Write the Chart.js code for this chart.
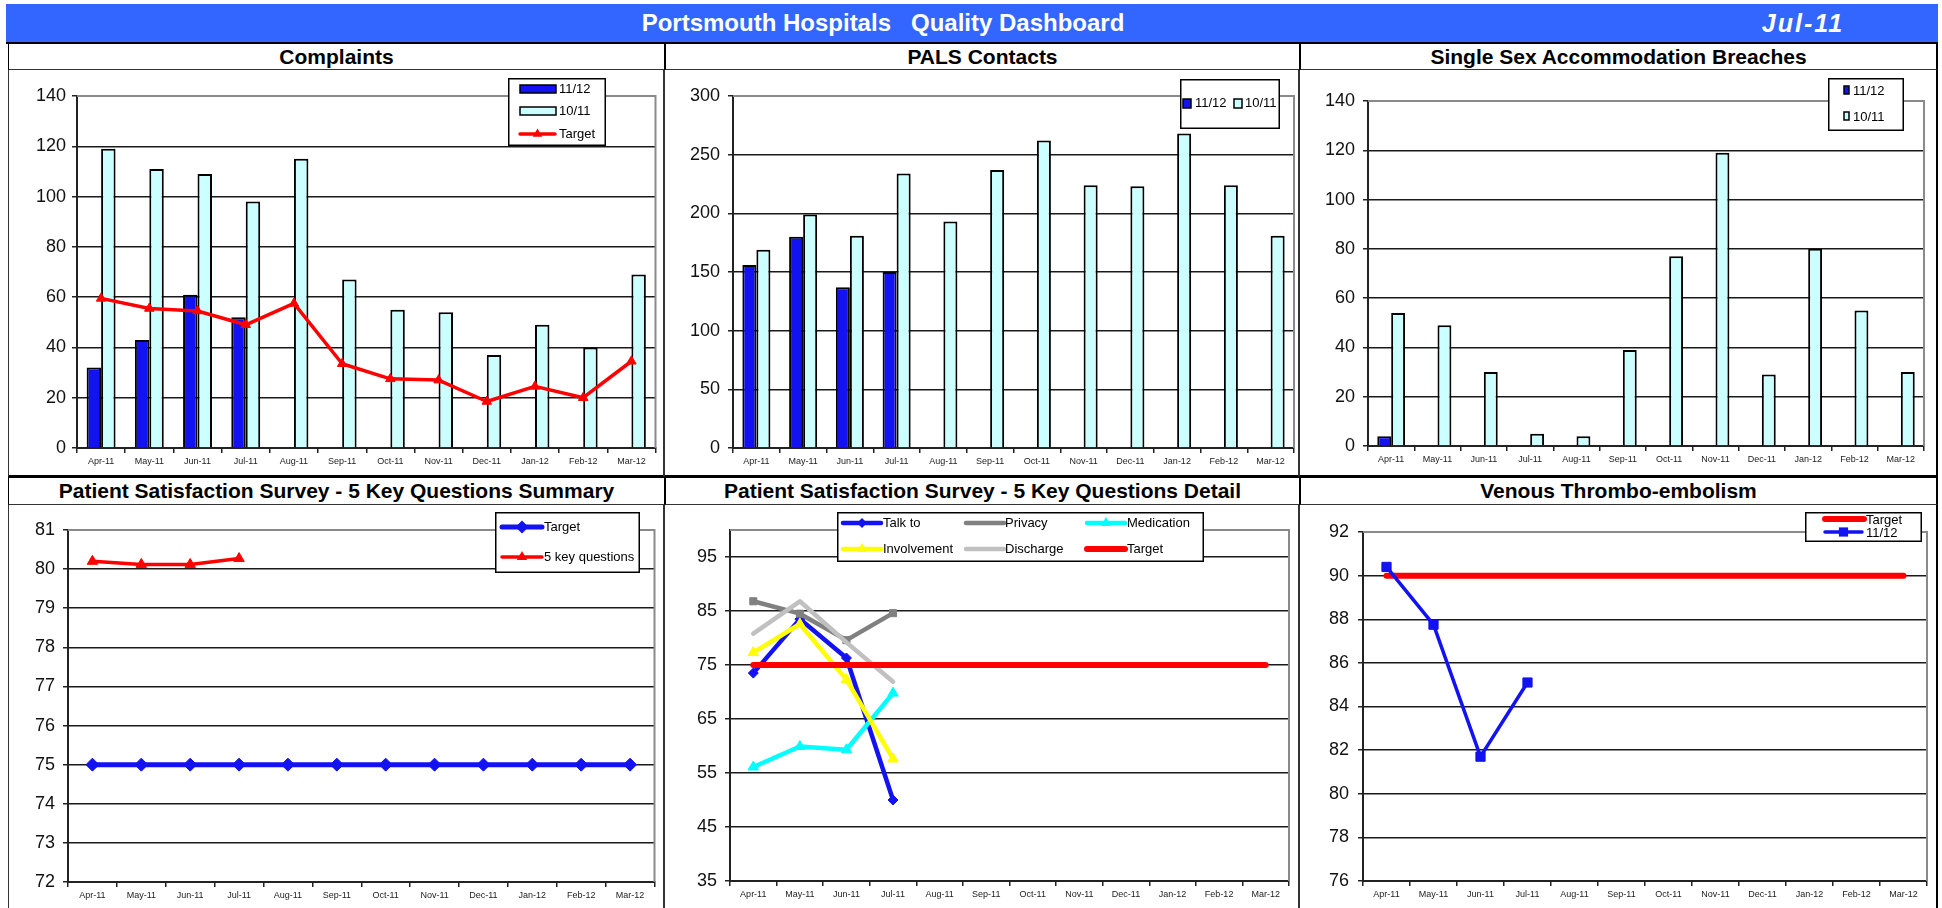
<!DOCTYPE html>
<html>
<head>
<meta charset="utf-8">
<title>Portsmouth Hospitals Quality Dashboard</title>
<script src="https://cdn.jsdelivr.net/npm/chart.js@4/dist/chart.umd.min.js"></script>
<style>
  html, body { margin: 0; padding: 0; background: #fff; }
  body { width: 1942px; height: 908px; position: relative; overflow: hidden;
         font-family: 'Liberation Sans', Arial, sans-serif; }
  .abs { position: absolute; box-sizing: border-box; }
  #header { left: 6px; top: 4px; width: 1932px; height: 38px; background: #3366ff; }
  #headRule { left: 6px; top: 42px; width: 1932px; height: 2px; background: #000; }
  .htext { top: 4px; height: 38px; line-height: 38px; color: #fff; font-weight: bold;
           white-space: pre; transform: translateX(-50%); }
  .htitle { font-size: 24px; }
  .hdate { font-size: 25px; font-style: italic; letter-spacing: 2px; }
  .cell { display: flex; align-items: center; justify-content: center; font-weight: bold;
          font-size: 21px; color: #000; border-bottom: 1px solid #333; white-space: nowrap; }
  .frame { border-left: 1px solid #333; border-right: 1px solid #333; }
  .top { border-bottom: 3px solid #000; }
  canvas { position: absolute; }
</style>
</head>
<body>
<div class="abs" id="header"></div>
<div class="abs htext htitle" style="left:883px">Portsmouth Hospitals   Quality Dashboard</div>
<div class="abs htext hdate" style="left:1803px">Jul-11</div>
<div class="abs" id="headRule"></div>

<!-- top row titles -->
<div class="abs cell" style="left:8px;top:44px;width:656px;height:26px;border-left:1px solid #000;">Complaints</div>
<div class="abs cell" style="left:664px;top:44px;width:635px;height:26px;border-left:2px solid #000;">PALS Contacts</div>
<div class="abs cell" style="left:1299px;top:44px;width:639px;height:26px;border-left:2px solid #000;border-right:2px solid #000;">Single Sex Accommodation Breaches</div>

<!-- top row frames -->
<div class="abs frame top" style="left:8px;top:70px;width:656px;height:408px;"></div>
<div class="abs frame top" style="left:664px;top:70px;width:635px;height:408px;"></div>
<div class="abs frame top" style="left:1299px;top:70px;width:639px;height:408px;border-right:2px solid #000;"></div>

<!-- bottom row titles -->
<div class="abs cell" style="left:8px;top:478px;width:656px;height:27px;border-left:1px solid #000;">Patient Satisfaction Survey - 5 Key Questions Summary</div>
<div class="abs cell" style="left:664px;top:478px;width:635px;height:27px;border-left:2px solid #000;">Patient Satisfaction Survey - 5 Key Questions Detail</div>
<div class="abs cell" style="left:1299px;top:478px;width:639px;height:27px;border-left:2px solid #000;border-right:2px solid #000;">Venous Thrombo-embolism</div>

<!-- bottom row frames -->
<div class="abs frame" style="left:8px;top:505px;width:656px;height:410px;"></div>
<div class="abs frame" style="left:664px;top:505px;width:635px;height:410px;"></div>
<div class="abs frame" style="left:1299px;top:505px;width:639px;height:410px;border-right:2px solid #000;"></div>

<canvas id="complaints"></canvas>
<canvas id="pals"></canvas>
<canvas id="ssa"></canvas>
<canvas id="survey"></canvas>
<canvas id="detail"></canvas>
<canvas id="vte"></canvas>

<script>
// ---- data ----
const months = ['Apr-11', 'May-11', 'Jun-11', 'Jul-11', 'Aug-11', 'Sep-11',
                'Oct-11', 'Nov-11', 'Dec-11', 'Jan-12', 'Feb-12', 'Mar-12'];

const complaints1112 = [32, 43, 61, 52, null, null, null, null, null, null, null, null];
const complaints1011 = [119, 111, 109, 98, 115, 67, 55, 54, 37, 49, 40, 69];
const complaintsTarget = [59.5, 55.5, 54.5, 49, 57.5, 33.5, 27.5, 27, 18.5, 24.5, 20, 34.5];
const complaintsTicks = [0, 20, 40, 60, 80, 100, 120, 140];

const pals1112 = [156, 180, 137, 150, null, null, null, null, null, null, null, null];
const pals1011 = [169, 199, 181, 234, 193, 237, 262, 224, 223, 268, 224, 181];
const palsTicks = [0, 50, 100, 150, 200, 250, 300];

const ssa1112 = [4, null, null, null, null, null, null, null, null, null, null, null];
const ssa1011 = [54, 49, 30, 5, 4, 39, 77, 119, 29, 80, 55, 30];
const ssaTicks = [0, 20, 40, 60, 80, 100, 120, 140];

const surveyTarget = [75, 75, 75, 75, 75, 75, 75, 75, 75, 75, 75, 75];
const surveyKeyQuestions = [80.2, 80.12, 80.12, 80.27];
const surveyTicks = [72, 73, 74, 75, 76, 77, 78, 79, 80, 81];

const talkTo = [73.5, 83.5, 76.3, 50];
const privacy = [86.8, 84.5, 79.6, 84.6];
const medication = [56.1, 59.9, 59.3, 69.8];
const involvement = [77.3, 82.6, 72.3, 57.6];
const discharge = [80.8, 86.8, 79.2, 71.9];
const detailTarget = [75, 75, 75, 75, 75, 75, 75, 75, 75, 75, 75, 75];
const detailTicks = [35, 45, 55, 65, 75, 85, 95];

const vteTarget = [90, 90, 90, 90, 90, 90, 90, 90, 90, 90, 90, 90];
const vte1112 = [90.4, 87.75, 81.7, 85.1];
const vteTicks = [76, 78, 80, 82, 84, 86, 88, 90, 92];

// ---- drawing helpers ----
const FONT = "'Liberation Sans', Arial, sans-serif";
const BLUE = '#1212f2';
const CYAN_FILL = '#ccffff';
const RED = '#ff0000';

// gray top/right border of the plot area
const plotFrame = {
  id: 'plotFrame',
  beforeDatasetsDraw(chart) {
    const { ctx, chartArea: a } = chart;
    ctx.save();
    ctx.strokeStyle = '#8a8a8a';
    ctx.lineWidth = 2;
    ctx.beginPath();
    ctx.moveTo(a.left, a.top);
    ctx.lineTo(a.right, a.top);
    ctx.lineTo(a.right, a.bottom);
    ctx.stroke();
    ctx.restore();
  }
};

function marker(ctx, style, r, x, y) {
  ctx.beginPath();
  if (style === 'triangle') {
    ctx.moveTo(x, y - r);
    ctx.lineTo(x + r * 0.866, y + r * 0.5);
    ctx.lineTo(x - r * 0.866, y + r * 0.5);
    ctx.closePath();
  } else if (style === 'rectRot') {
    ctx.moveTo(x, y - r); ctx.lineTo(x + r, y); ctx.lineTo(x, y + r); ctx.lineTo(x - r, y);
    ctx.closePath();
  } else {
    const s = r * Math.SQRT1_2;
    ctx.rect(x - s, y - s, 2 * s, 2 * s);
  }
  ctx.fill();
}

// boxed legend placed inside the chart canvas
const boxLegend = {
  id: 'boxLegend',
  afterDraw(chart, args, o) {
    if (!o || !o.box) return;
    const ctx = chart.ctx;
    const ox = o.origin[0], oy = o.origin[1];
    const [bx, by, bw, bh] = o.box;
    ctx.save();
    ctx.fillStyle = '#fff';
    ctx.fillRect(bx - ox, by - oy, bw, bh);
    ctx.strokeStyle = '#000';
    ctx.lineWidth = 1.5;
    ctx.strokeRect(bx - ox + 0.75, by - oy + 0.75, bw - 1.5, bh - 1.5);
    o.items.forEach(it => {
      const ds = chart.data.datasets[it.ds];
      if (it.sw) {
        const [sx, sy, sw, sh] = it.sw;
        ctx.fillStyle = ds.backgroundColor;
        ctx.fillRect(sx - ox, sy - oy, sw, sh);
        ctx.strokeStyle = '#000';
        ctx.lineWidth = 1.5;
        ctx.strokeRect(sx - ox, sy - oy, sw, sh);
      } else if (it.line) {
        const [x1, x2, ly] = it.line;
        ctx.strokeStyle = ds.borderColor;
        ctx.lineWidth = it.lw || ds.borderWidth;
        ctx.lineCap = 'round';
        ctx.beginPath();
        ctx.moveTo(x1 - ox, ly - oy);
        ctx.lineTo(x2 - ox, ly - oy);
        ctx.stroke();
        if (it.mark) {
          ctx.fillStyle = ds.borderColor;
          marker(ctx, ds.pointStyle, ds.pointRadius, (x1 + x2) / 2 - ox, ly - oy);
        }
      }
      ctx.fillStyle = '#000';
      ctx.font = '13px ' + FONT;
      ctx.textBaseline = 'middle';
      ctx.textAlign = 'left';
      ctx.fillText(ds.label, it.text[0] - ox, it.text[1] - oy);
    });
    ctx.restore();
  }
};

function makeChart(id, g, type, datasets, axis, legend) {
  const cv = document.getElementById(id);
  cv.width = g.w; cv.height = g.h;
  cv.style.left = g.x + 'px';
  cv.style.top = g.y + 'px';
  const plotL = g.pl - g.x, plotT = g.pt - g.y, plotR = g.pr - g.x, plotB = g.pb - g.y;
  const yMin = axis.ticks[0];
  const yMax = axis.max;
  return new Chart(cv, {
    type: type,
    data: { labels: months, datasets: datasets },
    options: {
      responsive: false,
      animation: false,
      events: [],
      layout: { padding: { left: 0, top: plotT, right: g.w - plotR, bottom: 0 } },
      plugins: {
        legend: { display: false },
        tooltip: { enabled: false },
        boxLegend: Object.assign({ origin: [g.x, g.y] }, legend)
      },
      scales: {
        x: {
          offset: true,
          grid: { offset: true, drawOnChartArea: false, drawTicks: true, tickLength: 5,
                  lineWidth: 1.5, color: '#222' },
          border: { display: true, color: '#222', width: 2 },
          ticks: { autoSkip: false, maxRotation: 0, minRotation: 0, padding: 3,
                   color: '#222', font: { family: FONT, size: 9 } },
          afterFit: s => { s.height = g.h - plotB; }
        },
        y: {
          min: yMin,
          max: yMax,
          afterBuildTicks: s => { s.ticks = axis.ticks.map(v => ({ value: v })); },
          grid: {
            color: c => (c.tick && c.tick.value === yMax) ? 'rgba(0,0,0,0)' : '#1a1a1a',
            tickColor: '#222', lineWidth: 1.5, tickLength: 5
          },
          border: { display: true, color: '#222', width: 2 },
          ticks: { padding: axis.pad, color: '#111', font: { family: FONT, size: 18 } },
          afterFit: s => { s.width = plotL; }
        }
      }
    },
    plugins: [plotFrame, boxLegend]
  });
}

function bars(label, data, fill) {
  return { type: 'bar', label: label, data: data, backgroundColor: fill, borderColor: '#000',
           borderWidth: 2, categoryPercentage: 0.6, barPercentage: 1.0, order: 1 };
}

function line(label, data, color, width, style, radius, order) {
  return { type: 'line', label: label, data: data, borderColor: color, backgroundColor: color,
           borderWidth: width, pointStyle: style || 'circle', pointRadius: radius,
           pointBorderWidth: 1, pointBackgroundColor: color, pointBorderColor: color,
           tension: 0, fill: false, spanGaps: false, order: order,
           borderJoinStyle: 'round', borderCapStyle: 'round' };
}

// Complaints
makeChart('complaints',
  { x: 9, y: 71, w: 653, h: 404, pl: 77, pt: 96, pr: 659, pb: 448 },
  'bar',
  [bars('11/12', complaints1112, BLUE),
   bars('10/11', complaints1011, CYAN_FILL),
   line('Target', complaintsTarget, RED, 3.5, 'triangle', 5.5, 0)],
  { ticks: complaintsTicks, max: 140, pad: 6 },
  { box: [508, 78, 98, 68],
    items: [{ ds: 0, sw: [520, 85, 36, 8], text: [559, 89.5] },
            { ds: 1, sw: [520, 107, 36, 8], text: [559, 111] },
            { ds: 2, line: [520, 555, 134], mark: true, text: [559, 134.5] }] });

// PALS Contacts
makeChart('pals',
  { x: 666, y: 71, w: 631, h: 404, pl: 733, pt: 96, pr: 1294, pb: 448 },
  'bar',
  [bars('11/12', pals1112, BLUE),
   bars('10/11', pals1011, CYAN_FILL)],
  { ticks: palsTicks, max: 300, pad: 8 },
  { box: [1180, 79, 100, 50],
    items: [{ ds: 0, sw: [1183, 99, 8, 9], text: [1195, 103.5] },
            { ds: 1, sw: [1234, 99, 8, 9], text: [1245, 103.5] }] });

// Single Sex Accommodation Breaches
makeChart('ssa',
  { x: 1301, y: 71, w: 634, h: 404, pl: 1368, pt: 101, pr: 1924, pb: 446 },
  'bar',
  [bars('11/12', ssa1112, BLUE),
   bars('10/11', ssa1011, CYAN_FILL)],
  { ticks: ssaTicks, max: 140, pad: 8 },
  { box: [1828, 78, 76, 53],
    items: [{ ds: 0, sw: [1844, 86, 5, 8], text: [1853, 91] },
            { ds: 1, sw: [1844, 112, 5, 8], text: [1853, 117] }] });

// Patient Satisfaction Survey - summary
makeChart('survey',
  { x: 9, y: 506, w: 653, h: 400, pl: 68, pt: 530, pr: 659, pb: 882 },
  'line',
  [line('Target', surveyTarget, BLUE, 5, 'rectRot', 6.5, 1),
   line('5 key questions', surveyKeyQuestions, RED, 3.5, 'triangle', 6, 0)],
  { ticks: surveyTicks, max: 81, pad: 8 },
  { box: [495, 512, 145, 61],
    items: [{ ds: 0, line: [502, 542, 527], mark: true, text: [544, 527] },
            { ds: 1, line: [502, 542, 557], mark: true, text: [544, 557.5] }] });

// Patient Satisfaction Survey - detail
makeChart('detail',
  { x: 666, y: 506, w: 631, h: 400, pl: 730, pt: 530, pr: 1289, pb: 881 },
  'line',
  [line('Talk to', talkTo, BLUE, 4.5, 'rectRot', 5, 5),
   line('Privacy', privacy, '#808080', 4.5, 'rect', 5, 4),
   line('Medication', medication, '#00ffff', 4.5, 'triangle', 6, 3),
   line('Involvement', involvement, '#ffff00', 4.5, 'triangle', 6, 2),
   line('Discharge', discharge, '#c0c0c0', 4.5, 'rect', 0, 1),
   line('Target', detailTarget, RED, 6, 'circle', 0, 0)],
  { ticks: detailTicks, max: 100, pad: 8 },
  { box: [837, 512, 367, 50],
    items: [{ ds: 0, line: [843, 881, 523], mark: true, text: [883, 523.5] },
            { ds: 1, line: [966, 1004, 523], text: [1005, 523.5] },
            { ds: 2, line: [1087, 1125, 523], mark: true, text: [1127, 523.5] },
            { ds: 3, line: [843, 881, 549], mark: true, text: [883, 549.5] },
            { ds: 4, line: [966, 1004, 549], text: [1005, 549.5] },
            { ds: 5, line: [1087, 1125, 549], text: [1127, 549.5] }] });

// Venous Thrombo-embolism
makeChart('vte',
  { x: 1301, y: 506, w: 634, h: 400, pl: 1363, pt: 532, pr: 1927, pb: 881 },
  'line',
  [line('Target', vteTarget, RED, 6, 'circle', 0, 1),
   line('11/12', vte1112, BLUE, 3.5, 'rect', 6.5, 0)],
  { ticks: vteTicks, max: 92, pad: 9 },
  { box: [1805, 512, 117, 30],
    items: [{ ds: 0, line: [1825, 1864, 519], text: [1866, 520] },
            { ds: 1, line: [1825, 1862, 532], mark: true, text: [1866, 533] }] });
</script>
</body>
</html>
